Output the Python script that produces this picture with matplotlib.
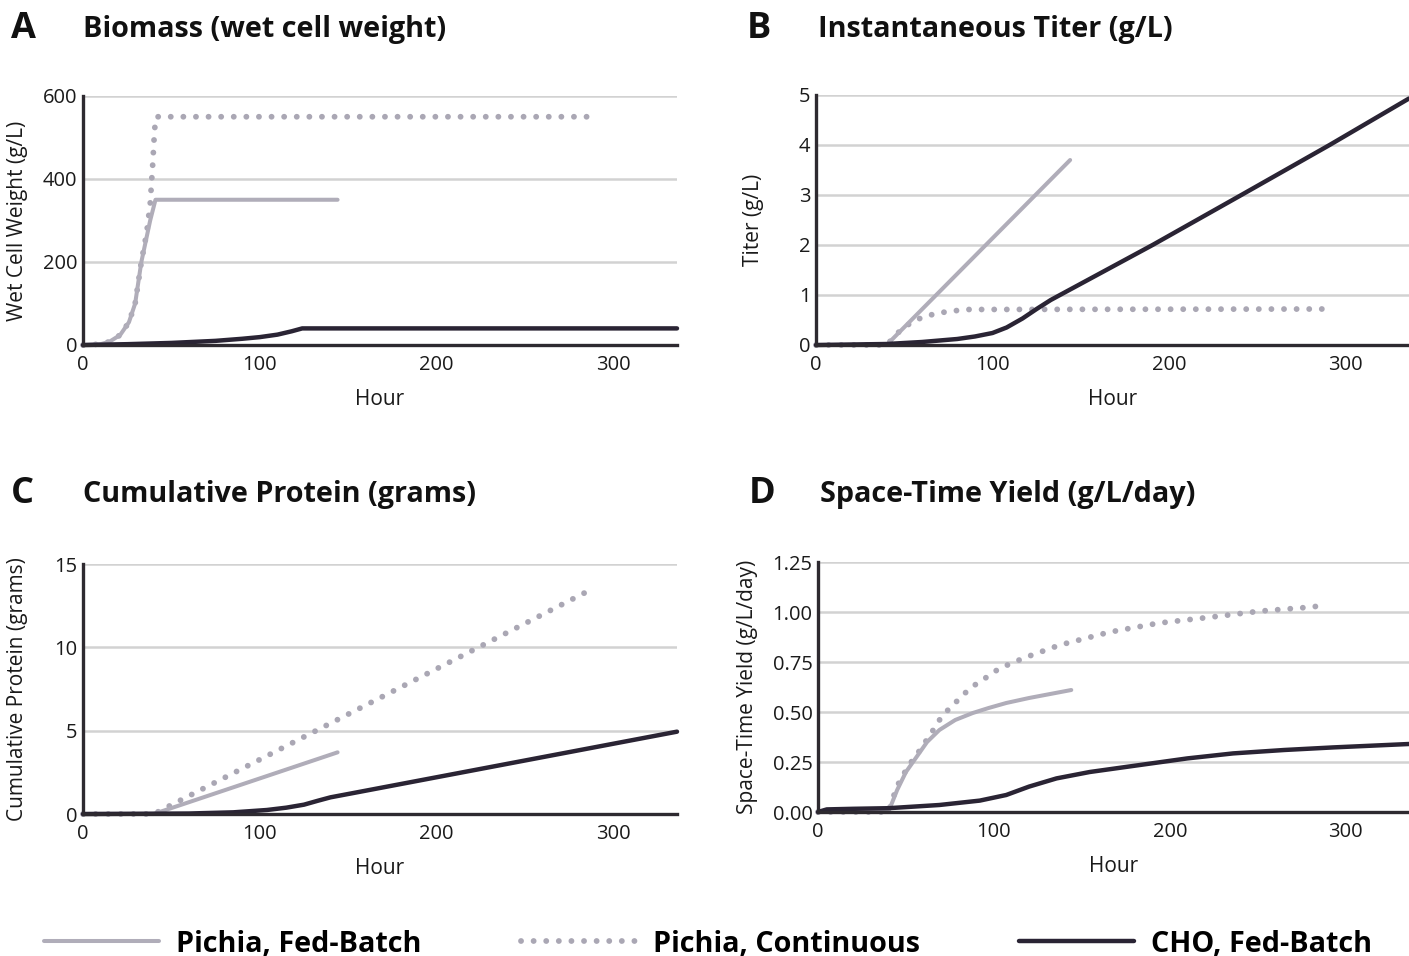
import matplotlib
matplotlib.use("Agg")
import matplotlib.pyplot as plt
from matplotlib.lines import Line2D

# ---------------- data ----------------
series_names = ["Pichia, Fed-Batch", "Pichia, Continuous", "CHO, Fed-Batch"]

# Panel A: Biomass (wet cell weight, g/L)
a_pfb_x = [0, 10, 15, 21, 26, 29.5, 33, 38, 41, 144]
a_pfb_y = [0, 2, 8, 24, 55, 100, 200, 300, 350, 350]
a_pc_x = [0, 10, 15, 21, 26, 29.5, 33, 36, 38, 39.5, 40.5, 41.5, 288]
a_pc_y = [0, 2, 8, 24, 55, 100, 200, 270, 340, 440, 520, 550, 550]
a_cho_x = [0, 25, 50, 75, 90, 100, 110, 118, 124, 336]
a_cho_y = [0, 2, 5, 10, 15, 19, 25, 33, 40, 40]

# Panel B: Instantaneous titer (g/L)
b_pfb_x = [0, 40, 144]
b_pfb_y = [0, 0, 3.7]
b_pc_x = [0, 40, 44, 48, 54, 60, 68, 75, 85, 288]
b_pc_y = [0, 0, 0.15, 0.3, 0.45, 0.55, 0.63, 0.67, 0.71, 0.72]
b_cho_x = [0, 40, 60, 80, 90, 100, 108, 117, 125, 133, 190.7, 241, 291, 336]
b_cho_y = [0, 0.02, 0.06, 0.12, 0.17, 0.24, 0.35, 0.53, 0.72, 0.9, 2.0, 3.0, 4.0, 4.93]

# Panel C: Cumulative protein (grams)
c_pfb_x = [0, 40, 144]
c_pfb_y = [0, 0, 3.7]
c_pc_x = [0, 40, 288]
c_pc_y = [0, 0, 13.5]
c_cho_x = [0, 60, 85, 104, 115, 125, 133, 140, 151, 336]
c_cho_y = [0, 0.03, 0.1, 0.24, 0.38, 0.56, 0.8, 1.0, 1.22, 4.94]

# Panel D: Space-time yield (g/L/day)
d_pfb_x = [0, 40, 45, 50, 56, 62, 69, 78, 88, 97, 107, 120, 132, 144]
d_pfb_y = [0, 0, 0.11, 0.2, 0.275, 0.35, 0.41, 0.46, 0.495, 0.52, 0.545, 0.57, 0.59, 0.61]
d_pc_x = [0, 40, 43, 46.6, 53, 58, 65.5, 70.3, 75, 80, 85.4, 91, 97, 103.4, 110, 117,
          137.5, 166, 194, 224, 252, 281, 288]
d_pc_y = [0, 0, 0.08, 0.16, 0.25, 0.31, 0.41, 0.477, 0.52, 0.563, 0.61, 0.647, 0.68, 0.72,
          0.743, 0.77, 0.835, 0.9, 0.945, 0.975, 1.005, 1.025, 1.035]
d_cho_x = [0, 5, 20, 40, 69, 92, 107, 120, 135.6, 154.5, 183, 210, 236, 265, 293, 336]
d_cho_y = [0, 0.013, 0.016, 0.019, 0.035, 0.057, 0.085, 0.127, 0.168, 0.2, 0.235, 0.268,
           0.293, 0.31, 0.323, 0.34]

x_ticks = [0, 100, 200, 300]
a_yticks = [0, 200, 400, 600]
b_yticks = [0, 1, 2, 3, 4, 5]
c_yticks = [0, 5, 10, 15]
d_yticks = [0, 0.25, 0.5, 0.75, 1.0, 1.25]

# ---------------- style ----------------
FONT = "Open Sans"
plt.rcParams["font.family"] = [FONT, "DejaVu Sans"]
LIGHT = "#b0adb9"
DOT = "#aaa7b4"
DARK = "#2a2434"
GRID = "#d2d2d2"
SPINE = "#2e2a30"
TXT = "#1a1a1a"

fig = plt.figure(figsize=(14.09, 9.56), dpi=100)
W, H = 1409, 956


def ax_at(l, t, r, b):
    return fig.add_axes([l / W, 1 - b / H, (r - l) / W, (b - t) / H])


panels = [
    dict(box=(83, 96, 677, 345), letter="A", lx=11, tx=83, ty=29,
         title="Biomass (wet cell weight)", ylabel="Wet Cell Weight (g/L)",
         ylim=600, yticks=a_yticks, fmt="{:g}", ylx=28,
         data=[(a_pfb_x, a_pfb_y), (a_pc_x, a_pc_y), (a_cho_x, a_cho_y)]),
    dict(box=(816, 95, 1409, 345), letter="B", lx=747, tx=818, ty=29,
         title="Instantaneous Titer (g/L)", ylabel="Titer (g/L)",
         ylim=5, yticks=b_yticks, fmt="{:g}", ylx=764,
         data=[(b_pfb_x, b_pfb_y), (b_pc_x, b_pc_y), (b_cho_x, b_cho_y)]),
    dict(box=(83, 564, 677, 814), letter="C", lx=11, tx=83, ty=494,
         title="Cumulative Protein (grams)", ylabel="Cumulative Protein (grams)",
         ylim=15, yticks=c_yticks, fmt="{:g}", ylx=28,
         data=[(c_pfb_x, c_pfb_y), (c_pc_x, c_pc_y), (c_cho_x, c_cho_y)]),
    dict(box=(818, 562, 1409, 812), letter="D", lx=749, tx=820, ty=494,
         title="Space-Time Yield (g/L/day)", ylabel="Space-Time Yield (g/L/day)",
         ylim=1.25, yticks=d_yticks, fmt="{:.2f}", ylx=758,
         data=[(d_pfb_x, d_pfb_y), (d_pc_x, d_pc_y), (d_cho_x, d_cho_y)]),
]

styles = [
    dict(color=LIGHT, lw=2.9, ls="-", solid_capstyle="round", zorder=3),
    dict(color=DOT, lw=4.2, ls=(0, (0.01, 2.15)), dash_capstyle="round", zorder=2),
    dict(color=DARK, lw=3.2, ls="-", solid_capstyle="round", zorder=4),
]

for p in panels:
    l, t, r, b = p["box"]
    ax = ax_at(l, t, r, b)
    for (xs, ys), st in zip(p["data"], styles):
        ax.plot(xs, ys, clip_on=False, **st)
    ax.set_xlim(0, 336)
    ax.set_ylim(0, p["ylim"])
    ax.set_xticks(x_ticks)
    ax.set_yticks(p["yticks"])
    ax.set_yticklabels([p["fmt"].format(v) for v in p["yticks"]])
    ax.tick_params(length=0, labelsize=14.5, colors=TXT)
    ax.tick_params(axis="y", pad=4)
    ax.tick_params(axis="x", pad=7)
    for sp in ["top", "right"]:
        ax.spines[sp].set_visible(False)
    for sp in ["left", "bottom"]:
        ax.spines[sp].set_color(SPINE)
        ax.spines[sp].set_linewidth(2.4)
        ax.spines[sp].set_zorder(5)
    for v in p["yticks"][1:]:
        ax.axhline(v, color=GRID, lw=1.8, zorder=1)
    ax.set_xlabel("Hour", fontsize=15, color=TXT)
    ax.xaxis.set_label_coords(0.5, -44 / (b - t))
    ax.set_ylabel(p["ylabel"], fontsize=15, color=TXT)
    ax.yaxis.set_label_coords((p["ylx"] - l) / (r - l), 0.5)
    ax.set_facecolor("none")
    fig.text(p["lx"] / W, 1 - p["ty"] / H, p["letter"], fontsize=26, fontweight="bold",
             va="center", ha="left", color="#111111")
    fig.text(p["tx"] / W, 1 - p["ty"] / H, p["title"], fontsize=20.7, fontweight="bold",
             va="center", ha="left", color="#111111")

handles = [Line2D([], [], **{k: v for k, v in st.items() if k != "zorder"}) for st in styles]
leg = fig.legend(handles, series_names, loc="center", bbox_to_anchor=(0.5025, 1 - 944 / H),
                 ncol=3, frameon=False, handlelength=4.0, handletextpad=0.6,
                 columnspacing=3.45, prop={"family": FONT, "weight": "bold", "size": 20.7})

fig.savefig("out.png", dpi=100)
